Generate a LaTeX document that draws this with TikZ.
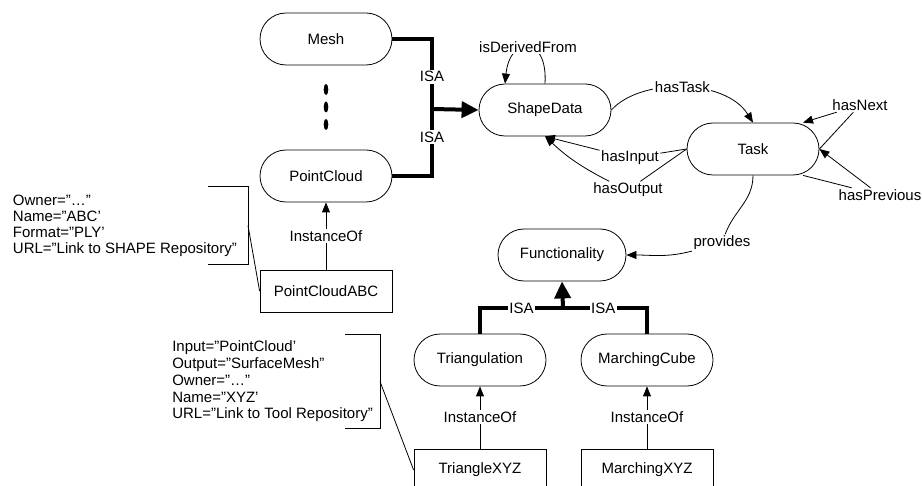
\documentclass[tikz,border=0pt]{standalone}
\usepackage{fontspec}
\setmainfont{Liberation Sans}
\usetikzlibrary{arrows.meta}

\begin{document}
\begin{tikzpicture}[x=1pt, y=-1pt,
    font=\fontsize{15}{16}\selectfont,
    concept/.style={draw, line width=0.8pt, rounded corners=26pt, minimum width=132pt, minimum height=52pt, inner sep=0pt},
    instance/.style={draw, line width=0.8pt, minimum width=132pt, minimum height=42pt, inner sep=0pt},
    rel/.style={line width=0.8pt},
    relarrow/.style={rel, -{Triangle[length=10pt,width=8pt]}},
    isa/.style={line width=4pt},
    isaarrow/.style={isa, -{Triangle[length=17pt,width=16pt]}},
    lbl/.style={fill=white, inner sep=1.5pt},
    note/.style={align=left, inner xsep=11pt, inner ysep=0pt}]

    \useasboundingbox (0,0) rectangle (922,486);
    \clip (0,0) rectangle (922,486);

    % classes
    \node[concept] (mesh) at (326,39) {Mesh};
    \node[concept] (pc) at (326,176) {PointCloud};
    \node[concept] (sd) at (545,110) {ShapeData};
    \node[concept] (task) at (753,149) {Task};
    \node[concept, minimum width=128pt] (func) at (562,255) {Functionality};
    \node[concept] (tri) at (480,360) {Triangulation};
    \node[concept] (mc) at (647,360) {MarchingCube};

    % instances
    \node[instance] (pcabc) at (326,291) {PointCloudABC};
    \node[instance] (trixyz) at (480,470) {TriangleXYZ};
    \node[instance] (mcxyz) at (647,470) {MarchingXYZ};

    \foreach \y in {89.5,107,124.5} {
        \fill (326,\y) ellipse [x radius=2.3pt, y radius=5.5pt];
    }

    % ISA hierarchy
    \coordinate (isaj) at (432,109);
    \draw[isa] (mesh.east) -| (isaj) node[lbl, pos=0.77] {ISA};
    \draw[isa] (pc.east) -| (isaj) node[lbl, pos=0.79] {ISA};
    \draw[isaarrow] (isaj) -- (sd.west);

    \coordinate (isak) at (563,308);
    \draw[isa] (tri.north) |- (isak) node[lbl, pos=0.75] {ISA};
    \draw[isa] (mc.north) |- (isak) node[lbl, pos=0.76] {ISA};
    \draw[isaarrow] (isak) -- (func.south);

    % instance links
    \draw[relarrow] (pcabc.north) -- (pc.south) node[lbl, midway] {InstanceOf};
    \draw[relarrow] (trixyz.north) -- (tri.south) node[lbl, midway] {InstanceOf};
    \draw[relarrow] (mcxyz.north) -- (mc.south) node[lbl, midway] {InstanceOf};

    % properties
    \draw[relarrow] (sd.north) .. controls (548,35) and (510,35) .. ([xshift=-40pt]sd.north) node[lbl, pos=0.5] {isDerivedFrom};
    \draw[relarrow] (sd.east) .. controls (640,78) and (725,78) .. (task.north) node[lbl, pos=0.5] {hasTask};

    \node[inner sep=1.5pt] (hasin) at (630,158) {hasInput};
    \node[inner sep=1.5pt] (hasout) at (628,190) {hasOutput};
    \draw[rel] (task.west) -- (hasin);
    \draw[relarrow] (hasin) -- (sd.south);
    \draw[rel] (task.west) -- (hasout);
    \draw[relarrow] (hasout) to[bend left=8] (sd.south);

    \node[inner sep=1.5pt] (hasnext) at (860,105) {hasNext};
    \draw[rel] (task.east) -- (hasnext);
    \draw[relarrow] (hasnext) -- ([xshift=50pt]task.north);

    \node[inner sep=1.5pt] (hasprev) at (880,195) {hasPrevious};
    \draw[rel] ([xshift=50pt]task.south) -- (hasprev);
    \draw[relarrow] (hasprev) -- (task.east);

    \node[inner sep=1.5pt] (prov) at (722,243) {provides};
    \draw[rel] (task.south) to[out=-90, in=70] (prov);
    \draw[relarrow] (prov) to[out=195, in=0] (func.east);

    % annotations
    \node[note, anchor=east, minimum height=77pt] (pcnote) at (248,225.5)
        {Owner="…"\\Name="ABC'\\Format="PLY'\\URL="Link to SHAPE Repository"};
    \draw[rel] ([xshift=-40pt]pcnote.north east) -- (pcnote.north east) -- (pcnote.south east) -- ([xshift=-40pt]pcnote.south east);
    \draw[rel] (pcnote.east) -- (pcabc.west);

    \node[note, anchor=east, minimum height=93pt, inner xsep=7pt, font=\fontsize{15}{16.7}\selectfont] (trinote) at (380,381.5)
        {Input="PointCloud'\\Output="SurfaceMesh"\\Owner="…"\\Name="XYZ'\\URL="Link to Tool Repository"};
    \draw[rel] ([xshift=-35pt]trinote.north east) -- (trinote.north east) -- (trinote.south east) -- ([xshift=-35pt]trinote.south east);
    \draw[rel] (trinote.east) -- (trixyz.west);

\end{tikzpicture}
\end{document}
